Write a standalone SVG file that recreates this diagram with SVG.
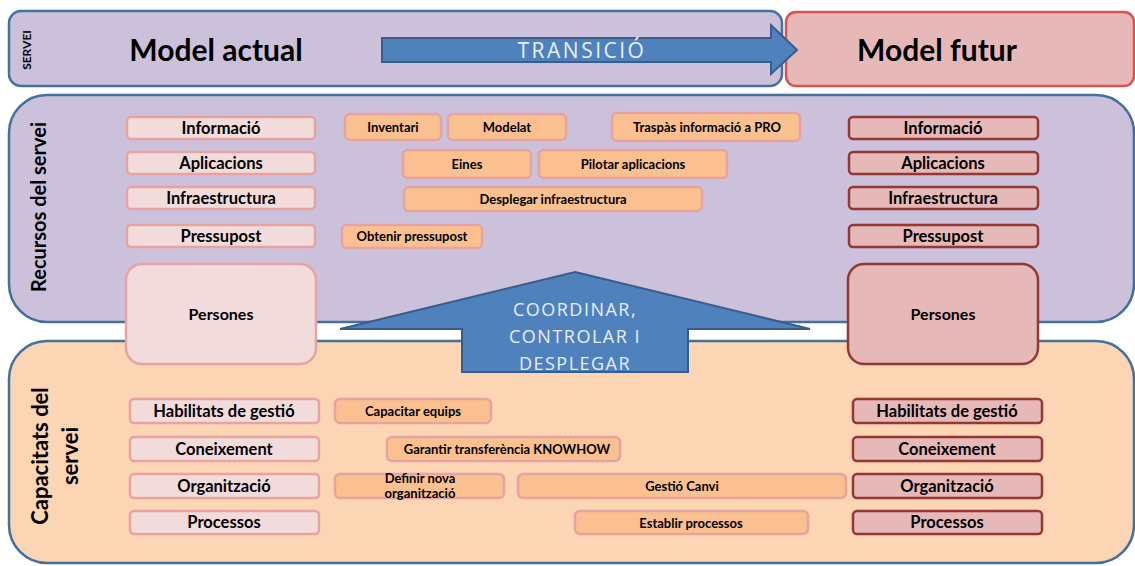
<svg xmlns="http://www.w3.org/2000/svg" width="1135" height="566" viewBox="0 0 1135 566">
  <defs>
    <style>
      .lane { fill: #ccc1da; stroke: #41719c; stroke-width: 2.5; }
      .cap { fill: #fcd5b5; stroke: #41719c; stroke-width: 2.5; }
      .future { fill: #e6b9b8; stroke: #d9534f; stroke-width: 2.5; }
      .cur { fill: #f2dcdb; stroke: #e6a3a1; stroke-width: 2.5; }
      .fut { fill: #e6b9b8; stroke: #953735; stroke-width: 2.5; }
      .act { fill: #fac090; stroke: #e6a3a1; stroke-width: 2.5; }
      .blk { fill: #4f81bd; stroke: #385d8a; stroke-width: 2; }
      .t { font-family: "Lato", "Liberation Sans", sans-serif; font-weight: bold; fill: #000; text-anchor: middle; }
      .big { font-size: 30px; }
      .lbl { font-size: 16.5px; }
      .sm { font-size: 13px; }
      .side { font-size: 20px; }
      .w { font-family: "Open Sans", "Liberation Sans", sans-serif; fill: #e9eff8; text-anchor: middle; }
    </style>
  </defs>

  <!-- service header -->
  <g id="model-actual">
    <rect class="lane" x="9" y="11" width="773" height="75" rx="12"/>
    <text class="t" font-size="12" transform="translate(31 50) rotate(-90)" x="0" y="0">SERVEI</text>
    <text class="t big" x="216" y="61">Model actual</text>
  </g>
  <g id="model-futur">
    <rect class="future" x="786" y="12" width="348" height="74" rx="10"/>
    <text class="t big" x="937" y="61">Model futur</text>
  </g>

  <!-- resources band -->
  <g id="recursos">
    <rect class="lane" x="9" y="95" width="1125" height="227" rx="38"/>
    <text class="t side" x="0" y="0" transform="translate(46 207) rotate(-90)">Recursos del servei</text>
  </g>

  <!-- capabilities band -->
  <g id="capacitats">
    <rect class="cap" x="9" y="341" width="1125" height="222" rx="38"/>
    <text class="t" font-size="22" transform="translate(48 456) rotate(-90)"><tspan x="0" y="0">Capacitats del</tspan><tspan x="0" y="30">servei</tspan></text>
  </g>

  <!-- people (spans both bands) -->
  <g id="persones-actual">
    <rect class="cur" x="126" y="264" width="190" height="100" rx="16"/>
    <text class="t" font-size="16" x="221" y="320">Persones</text>
  </g>
  <g id="persones-futur">
    <rect class="fut" x="848" y="264" width="190" height="100" rx="16"/>
    <text class="t" font-size="16" x="943" y="320">Persones</text>
  </g>

  <!-- block arrows -->
  <g id="connectors">
    <g id="transicio">
      <path class="blk" d="M382 38 H771 V25 L797 50 L771 74 V62 H382 Z"/>
      <text class="w" x="582" y="58" font-size="21" letter-spacing="2.5">TRANSICIÓ</text>
    </g>
    <g id="coordinar">
      <path class="blk" d="M575 272 L810 329 H688 V372 H462 V329 H340 Z"/>
      <text class="w" font-size="18" letter-spacing="1.5"><tspan x="575" y="316">COORDINAR,</tspan><tspan x="575" y="343">CONTROLAR I</tspan><tspan x="575" y="370">DESPLEGAR</tspan></text>
    </g>
  </g>

  <!-- current resources -->
  <g id="informacio-actual"><rect class="cur" x="127" y="117" width="188" height="22" rx="4"/><text class="t lbl" x="221" y="134">Informació</text></g>
  <g id="aplicacions-actual"><rect class="cur" x="127" y="152" width="188" height="22" rx="4"/><text class="t lbl" x="221" y="169">Aplicacions</text></g>
  <g id="infraestructura-actual"><rect class="cur" x="127" y="187" width="188" height="22" rx="4"/><text class="t lbl" x="221" y="204">Infraestructura</text></g>
  <g id="pressupost-actual"><rect class="cur" x="127" y="225" width="188" height="22" rx="4"/><text class="t lbl" x="221" y="242">Pressupost</text></g>

  <!-- future resources -->
  <g id="informacio-futur"><rect class="fut" x="849" y="117" width="189" height="22" rx="4"/><text class="t lbl" x="943" y="134">Informació</text></g>
  <g id="aplicacions-futur"><rect class="fut" x="849" y="152" width="189" height="22" rx="4"/><text class="t lbl" x="943" y="169">Aplicacions</text></g>
  <g id="infraestructura-futur"><rect class="fut" x="849" y="187" width="189" height="22" rx="4"/><text class="t lbl" x="943" y="204">Infraestructura</text></g>
  <g id="pressupost-futur"><rect class="fut" x="849" y="225" width="189" height="22" rx="4"/><text class="t lbl" x="943" y="242">Pressupost</text></g>

  <!-- resource actions -->
  <g id="inventari"><rect class="act" x="345" y="114" width="96" height="26" rx="5"/><text class="t sm" x="393" y="132">Inventari</text></g>
  <g id="modelat"><rect class="act" x="448" y="114" width="118" height="26" rx="5"/><text class="t sm" x="507" y="132">Modelat</text></g>
  <g id="traspas"><rect class="act" x="612" y="113" width="188" height="28" rx="5"/><text class="t sm" x="707" y="132">Traspàs informació a PRO</text></g>
  <g id="eines"><rect class="act" x="403" y="150" width="128" height="28" rx="5"/><text class="t sm" x="467" y="169">Eines</text></g>
  <g id="pilotar"><rect class="act" x="539" y="150" width="188" height="28" rx="5"/><text class="t sm" x="633" y="169">Pilotar aplicacions</text></g>
  <g id="desplegar-infra"><rect class="act" x="404" y="187" width="298" height="24" rx="5"/><text class="t sm" x="553" y="204">Desplegar infraestructura</text></g>
  <g id="obtenir-pressupost"><rect class="act" x="342" y="225" width="140" height="23" rx="5"/><text class="t sm" x="412" y="241">Obtenir pressupost</text></g>

  <!-- current capabilities -->
  <g id="habilitats-actual"><rect class="cur" x="130" y="399" width="189" height="24" rx="4"/><text class="t lbl" x="224" y="417">Habilitats de gestió</text></g>
  <g id="coneixement-actual"><rect class="cur" x="130" y="437" width="189" height="24" rx="4"/><text class="t lbl" x="224" y="455">Coneixement</text></g>
  <g id="organitzacio-actual"><rect class="cur" x="130" y="474" width="189" height="24" rx="4"/><text class="t lbl" x="224" y="492">Organització</text></g>
  <g id="processos-actual"><rect class="cur" x="130" y="511" width="189" height="23" rx="4"/><text class="t lbl" x="224" y="528">Processos</text></g>

  <!-- future capabilities -->
  <g id="habilitats-futur"><rect class="fut" x="853" y="399" width="189" height="24" rx="4"/><text class="t lbl" x="947" y="417">Habilitats de gestió</text></g>
  <g id="coneixement-futur"><rect class="fut" x="853" y="437" width="189" height="24" rx="4"/><text class="t lbl" x="947" y="455">Coneixement</text></g>
  <g id="organitzacio-futur"><rect class="fut" x="853" y="474" width="189" height="24" rx="4"/><text class="t lbl" x="947" y="492">Organització</text></g>
  <g id="processos-futur"><rect class="fut" x="853" y="511" width="189" height="23" rx="4"/><text class="t lbl" x="947" y="528">Processos</text></g>

  <!-- capability actions -->
  <g id="capacitar"><rect class="act" x="335" y="399" width="156" height="24" rx="5"/><text class="t sm" x="413" y="416">Capacitar equips</text></g>
  <g id="garantir"><rect class="act" x="387" y="437" width="233" height="24" rx="5"/><text class="t sm" x="507" y="454">Garantir transferència KNOWHOW</text></g>
  <g id="definir"><rect class="act" x="335" y="474" width="169" height="24" rx="5"/><text class="t sm"><tspan x="420" y="483">Definir nova</tspan><tspan x="420" y="498">organització</tspan></text></g>
  <g id="gestio-canvi"><rect class="act" x="518" y="474" width="328" height="24" rx="5"/><text class="t sm" x="682" y="491">Gestió Canvi</text></g>
  <g id="establir"><rect class="act" x="575" y="511" width="233" height="23" rx="5"/><text class="t sm" x="691" y="528">Establir processos</text></g>
</svg>
